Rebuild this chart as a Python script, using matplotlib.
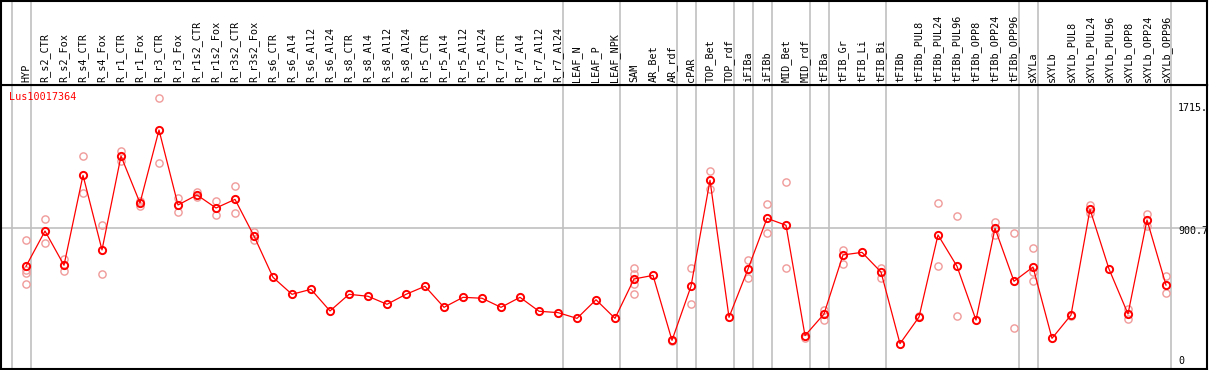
import numpy as np
import matplotlib
matplotlib.use('Agg')
import matplotlib.pyplot as plt
from matplotlib.transforms import blended_transform_factory, ScaledTranslation

samples = ['HYP', 'R_s2_CTR', 'R_s2_Fox', 'R_s4_CTR', 'R_s4_Fox', 'R_r1_CTR', 'R_r1_Fox',
           'R_r3_CTR', 'R_r3_Fox', 'R_r1s2_CTR', 'R_r1s2_Fox', 'R_r3s2_CTR', 'R_r3s2_Fox',
           'R_s6_CTR', 'R_s6_Al4', 'R_s6_Al12', 'R_s6_Al24', 'R_s8_CTR', 'R_s8_Al4',
           'R_s8_Al12', 'R_s8_Al24', 'R_r5_CTR', 'R_r5_Al4', 'R_r5_Al12', 'R_r5_Al24',
           'R_r7_CTR', 'R_r7_Al4', 'R_r7_Al12', 'R_r7_Al24', 'LEAF_N', 'LEAF_P', 'LEAF_NPK',
           'SAM', 'AR_Bet', 'AR_rdf', 'cPAR', 'TOP_Bet', 'TOP_rdf', 'iFIBa', 'iFIBb',
           'MID_Bet', 'MID_rdf', 'tFIBa', 'tFIB_Gr', 'tFIB_Li', 'tFIB_Bi', 'tFIBb',
           'tFIBb_PUL8', 'tFIBb_PUL24', 'tFIBb_PUL96', 'tFIBb_OPP8', 'tFIBb_OPP24',
           'tFIBb_OPP96', 'sXYLa', 'sXYLb', 'sXYLb_PUL8', 'sXYLb_PUL24', 'sXYLb_PUL96',
           'sXYLb_OPP8', 'sXYLb_OPP24', 'sXYLb_OPP96']

means = [648, 881, 655, 1249, 756, 1376, 1066, 1548, 1053, 1119, 1033, 1090, 848,
         575, 463, 496, 353, 463, 450, 397, 463, 516, 377, 443, 437, 377, 443, 351, 342,
         304, 427, 304,
         564, 588, 159, 516, 1216, 311, 630, 965, 919, 190, 333, 723, 740, 610, 137,
         313, 855, 648, 293, 899, 549, 643, 172, 326, 1024, 630, 333, 954, 524]

# replicate values per sample (empty where they sit under the mean)
replicates = {
    0: [822, 622, 602, 529], 1: [958, 800], 2: [696, 615], 3: [1376, 1130],
    4: [921, 595], 5: [1409, 1343], 6: [1079, 1048], 7: [1757, 1328],
    8: [1101, 1005], 9: [1137, 1106], 10: [1077, 989], 11: [1176, 1000],
    12: [877, 820], 32: [637, 595, 533, 467], 34: [152], 35: [635, 397],
    36: [1275, 1157], 38: [690, 569], 39: [1059, 866], 40: [1203, 637],
    41: [172], 42: [359, 291], 43: [758, 661], 45: [639, 573], 47: [322],
    48: [1066, 648], 49: [980, 320], 51: [941, 855], 52: [866, 238],
    53: [769, 608, 549], 55: [320], 56: [1053, 1002], 58: [364, 298],
    59: [993, 916], 60: [584, 470],
}

# group separators sit just right of these sample positions
group_ends = [-1, 0, 28, 31, 34, 35, 37, 38, 39, 41, 42, 45, 52, 53, 60]
yticks = [0, 900.7, 1715]
ytick_labels = ['0', '900.7', '1715.']
gene = 'Lus10017364'

W, H = 1209, 370
fig = plt.figure(figsize=(W / 100, H / 100), dpi=100)
mono = 'DejaVu Sans Mono'
red = '#ff0000'
pink = '#f09a9a'
grey = '#c0c0c0'

xlim = (-25 / 19, -25 / 19 + 1206 / 19)
ylim = (-30.4, 1845.4)

ax = fig.add_axes([1 / W, 1 / H, 1206 / W, 284 / H])
hd = fig.add_axes([1 / W, 285 / H, 1206 / W, 84 / H])

for a in (ax, hd):
    a.set_xlim(*xlim)
    a.set_xticks([])
    a.set_yticks([])
    for s in a.spines.values():
        s.set_linewidth(1.5)
        s.set_color('black')
    for g in group_ends:
        a.axvline(g + 0.25, color=grey, lw=1.2, zorder=0)
hd.set_ylim(0, 1)
ax.set_ylim(*ylim)
ax.axhline(yticks[1], color=grey, lw=1.2, zorder=0)

x = np.arange(len(samples))
ax.plot(x, means, color=red, lw=0.9, zorder=2)
for i, vals in replicates.items():
    ax.plot([i] * len(vals), vals, ls='none', marker='o', ms=5.2,
            mfc='none', mec=pink, mew=1.0, zorder=1)
ax.plot(x, means, ls='none', marker='o', ms=5.2, mfc='none', mec=red,
        mew=1.4, zorder=3)

ax.text(8 / 1206, 1 - 12 / 284, gene, transform=ax.transAxes, color=red,
        family=mono, fontsize=7.3, va='center', ha='left')

tr = blended_transform_factory(hd.transData, hd.transAxes)
for i, lab in enumerate(samples):
    hd.text(i, 3 / 84, lab, transform=tr, rotation=90, ha='center',
            va='bottom', family=mono, fontsize=7.3)

ytr = blended_transform_factory(ax.transAxes, ax.transData)
for v, lab in zip(yticks, ytick_labels):
    dy = 3 if v == 0 else -3.4
    off = ScaledTranslation(0, dy / 100, fig.dpi_scale_trans)
    ax.text(1177 / 1206, v, lab, transform=ytr + off, ha='left', va='center',
            family=mono, fontsize=7.2)

fig.savefig('out.png', dpi=100)
